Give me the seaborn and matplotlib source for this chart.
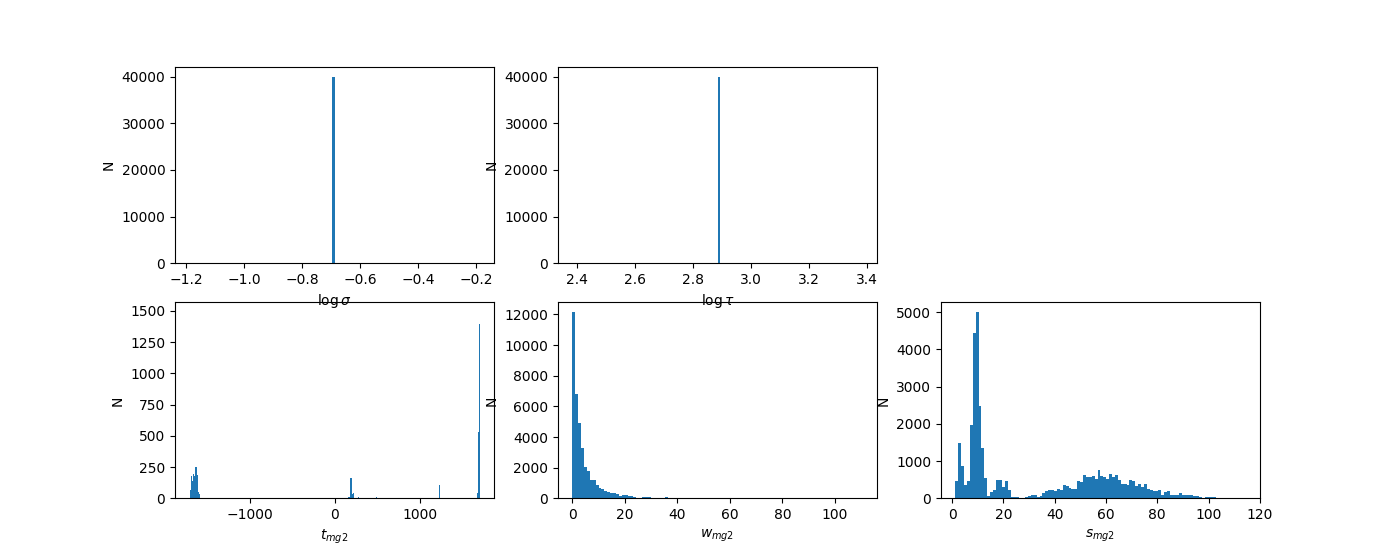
import numpy as np
import matplotlib
matplotlib.use("Agg")
import matplotlib.pyplot as plt
import seaborn as sns

# --- data (bin counts, 40000 samples per chain) ---
# top row: every sample has the same value
log_sigma_value = -0.688
log_tau_value = 2.886
n_samples = 40000

# t_mg2: sparse spikes (value, count), 300 bins
t_range = (-1713, 1707)
t_values = [-1707, -1695, -1683, -1671, -1660, -1648, -1636, -1624, -1612, -1601, -1589,
            159, 171, 183, 195, 207, 218, 277, 490, 1234, 1679, 1690, 1702]
t_counts = [160, 68, 178, 140, 195, 182, 252, 252, 187, 52, 36,
            10, 13, 165, 165, 32, 45, 10, 8, 106, 40, 530, 1392]

# w_mg2: counts for 100 bins over w_range (bins not listed are empty)
w_range = (0.07, 110.5)
w_counts = [12176, 6808, 4910, 3273, 2029, 1767, 1178, 1178, 851, 698,
            589, 502, 436, 349, 349, 262, 153, 196, 196, 131,
            131, 87, 44, 15, 70, 70, 70, 0, 0, 0,
            0, 0, 70]
w_tail = {99: 1}

# s_mg2: counts for 100 bins over s_range
s_range = (1.25, 114.4)
s_counts = [466, 1487, 878, 358, 466, 1971, 4444, 5009, 2482, 1353,
            547, 63, 170, 224, 493, 493, 305, 466, 224, 36,
            36, 36, 0, 0, 36, 63, 90, 90, 36, 54,
            134, 188, 215, 215, 188, 242, 215, 349, 322, 269,
            242, 242, 457, 430, 618, 564, 564, 591, 511, 753,
            591, 564, 511, 645, 564, 618, 484, 376, 376, 349,
            484, 457, 322, 376, 296, 376, 242, 215, 188, 188,
            215, 81, 161, 188, 81, 81, 81, 134, 81, 81,
            81, 81, 54, 54, 27, 0, 27, 27, 27, 27]
s_tail = {99: 2}

BLUE = "#1f77b4"


def bin_centers(rng, nbins=100):
    edges = np.linspace(rng[0], rng[1], nbins + 1)
    return (edges[:-1] + edges[1:]) / 2


def full_counts(counts, tail, nbins=100):
    out = np.zeros(nbins)
    out[:len(counts)] = counts
    for k, v in tail.items():
        out[k] = v
    return out


def hist(ax, values, weights, bins, binrange, xlabel):
    sns.histplot(x=values, weights=weights, bins=bins, binrange=binrange,
                 color=BLUE, alpha=1, linewidth=0, ax=ax)
    ax.set_xlabel(xlabel)
    ax.set_ylabel("N")


fig = plt.figure(figsize=(14, 5.6), dpi=100)

# constant chains: range is value +/- 0.5 like plt.hist; the sample sits
# just under the centre so it falls in the left-hand middle bin
ax1 = fig.add_subplot(2, 3, 1)
hist(ax1, [log_sigma_value - 0.005], [n_samples], 100,
     (log_sigma_value - 0.5, log_sigma_value + 0.5), r"$\log\sigma$")

ax2 = fig.add_subplot(2, 3, 2)
hist(ax2, [log_tau_value + 0.005], [n_samples], 100,
     (log_tau_value - 0.5, log_tau_value + 0.5), r"$\log\tau$")

ax4 = fig.add_subplot(2, 3, 4)
hist(ax4, t_values, t_counts, 300, t_range, r"$t_{mg2}$")
ax4.set_ylim(0, 1568)

ax5 = fig.add_subplot(2, 3, 5)
hist(ax5, bin_centers(w_range), full_counts(w_counts, w_tail), 100, w_range, r"$w_{mg2}$")

ax6 = fig.add_subplot(2, 3, 6)
hist(ax6, bin_centers(s_range), full_counts(s_counts, s_tail), 100, s_range, r"$s_{mg2}$")

# top-row x labels run into the bottom row; keep them drawn on top
ax1.set_zorder(2)
ax2.set_zorder(2)

fig.savefig("out.png", dpi=100)
